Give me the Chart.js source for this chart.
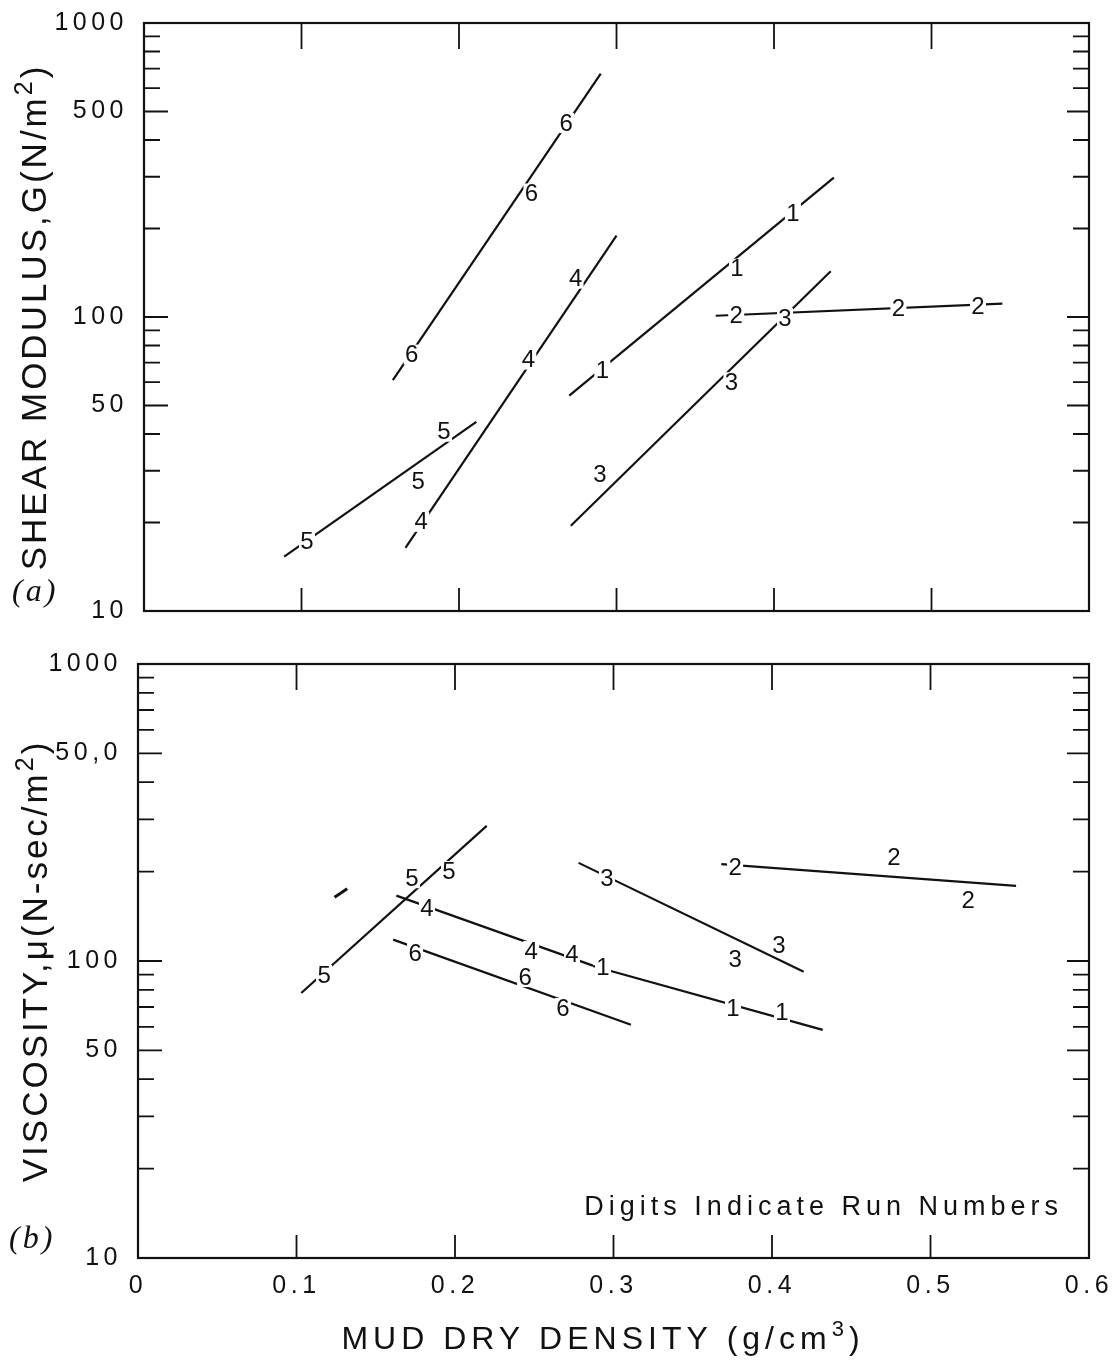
<!DOCTYPE html>
<html>
<head>
<meta charset="utf-8">
<script src="https://cdn.jsdelivr.net/npm/chart.js@4.4.1/dist/chart.umd.min.js"></script>
<style>
  body { margin: 0; background: #fff; }
  #wrap { position: relative; width: 1119px; height: 1360px; }
  canvas { position: absolute; left: 0; }
  #shearChart { top: 0; }
  #viscChart { top: 640px; }
</style>
</head>
<body>
<div id="wrap">
  <canvas id="shearChart" width="1119" height="640"></canvas>
  <canvas id="viscChart" width="1119" height="720"></canvas>
</div>
<script>
const densityTicks = [0, 0.1, 0.2, 0.3, 0.4, 0.5, 0.6];
const densityTickLabels = ['0', '0.1', '0.2', '0.3', '0.4', '0.5', '0.6'];
const logTicks = [10, 50, 100, 500, 1000];
const shearTickLabels = ['10', '50', '100', '500', '1000'];
const viscTickLabels = ['10', '50', '100', '50,0', '1000'];
const minorTicks = [20, 30, 40, 60, 70, 80, 90, 200, 300, 400, 600, 700, 800, 900];

// (a) shear modulus G (N/m2): end points of each run line [density, G]
const shearRun1 = [[0.270, 54], [0.438, 298]];
const shearRun2 = [[0.363, 101], [0.545, 111]];
const shearRun3 = [[0.271, 19.5], [0.436, 143]];
const shearRun4 = [[0.166, 16.4], [0.300, 189]];
const shearRun5 = [[0.089, 15.3], [0.211, 44]];
const shearRun6 = [[0.158, 61], [0.290, 673]];
// run digits written along the lines [run, density, G]
const shearDigits = [
  ['6', 0.170, 74.5], ['6', 0.246, 263], ['6', 0.268, 457],
  ['4', 0.176, 20.1], ['4', 0.244, 71.6], ['4', 0.274, 135],
  ['5', 0.1035, 17.3], ['5', 0.174, 27.6], ['5', 0.1905, 40.7],
  ['1', 0.291, 65.8], ['1', 0.3765, 146], ['1', 0.412, 226],
  ['3', 0.2895, 29.1], ['3', 0.373, 60], ['3', 0.407, 99.2],
  ['2', 0.376, 101.6], ['2', 0.479, 107.2], ['2', 0.5295, 108.9]
];

// (b) viscosity mu (N-sec/m2)
const viscRun1 = [[0.287, 96.2], [0.432, 58.6]];
const viscRun2 = [[0.368, 212], [0.554, 179]];
const viscRun3 = [[0.278, 214], [0.420, 92]];
const viscRun4 = [[0.163, 166], [0.287, 96.5]];
const viscRun5 = [[0.103, 78], [0.220, 285]];
const viscRun6 = [[0.161, 118], [0.311, 61]];
const viscStray = [[0.124, 164], [0.132, 175]];
const viscDigits = [
  ['5', 0.1174, 89.8], ['5', 0.1729, 190], ['5', 0.1962, 201],
  ['4', 0.1823, 150.7], ['4', 0.248, 108], ['4', 0.2738, 105.6],
  ['1', 0.2934, 95.4], ['1', 0.3754, 69.5], ['1', 0.4063, 67.3],
  ['6', 0.1748, 106.4], ['6', 0.2442, 88.3], ['6', 0.2681, 69.5],
  ['3', 0.2959, 190.4], ['3', 0.4044, 113.2], ['3', 0.3767, 101.6],
  ['2', 0.3767, 207.3], ['2', 0.477, 224], ['2', 0.5237, 160.5]
];

const sans = '"Liberation Sans", Arial, Helvetica, sans-serif';
const ink = '#111';

function runSet(points, width) {
  return {
    data: points.map(p => ({ x: p[0], y: p[1] })),
    showLine: true,
    borderColor: ink,
    borderWidth: width || 2.2,
    pointRadius: 0,
    tension: 0,
    fill: false
  };
}

// text with a superscript part, drawn from x0 on the baseline
function partsWidth(ctx, parts, size) {
  let w = 0;
  parts.forEach(([t, sup]) => {
    ctx.font = (sup ? Math.round(size * 0.7) : size) + 'px ' + sans;
    w += ctx.measureText(t).width;
  });
  return w;
}
function drawParts(ctx, parts, size, x0) {
  let x = x0;
  parts.forEach(([t, sup]) => {
    ctx.font = (sup ? Math.round(size * 0.7) : size) + 'px ' + sans;
    ctx.fillText(t, x, sup ? -size * 0.4 : 0);
    x += ctx.measureText(t).width;
  });
}

// frame, inward ticks, digits and captions
function paperPlugin(cfg) {
  return {
    id: 'paper',
    beforeDraw(chart) {
      chart.ctx.letterSpacing = '4.5px';
    },
    afterDatasetsDraw(chart) {
      const { ctx, scales: { x, y } } = chart;
      ctx.save();
      ctx.letterSpacing = '0px';
      ctx.font = '24px ' + sans;
      ctx.textAlign = 'center';
      ctx.textBaseline = 'middle';
      cfg.digits.forEach(([t, v, g]) => {
        const px = x.getPixelForValue(v);
        const py = y.getPixelForValue(g);
        ctx.fillStyle = '#fff';
        ctx.fillRect(px - 8, py - 10, 16, 20);
        ctx.fillStyle = ink;
        ctx.fillText(t, px, py + 1);
      });
      ctx.restore();
    },
    afterDraw(chart) {
      const { ctx, chartArea: a, scales: { x, y } } = chart;
      ctx.save();
      ctx.strokeStyle = ink;
      ctx.lineWidth = 2.2;
      ctx.strokeRect(a.left, a.top, a.right - a.left, a.bottom - a.top);
      ctx.lineWidth = 1.8;
      ctx.beginPath();
      densityTicks.slice(1, -1).forEach(v => {
        const px = x.getPixelForValue(v);
        ctx.moveTo(px, a.top); ctx.lineTo(px, a.top + 26);
        ctx.moveTo(px, a.bottom); ctx.lineTo(px, a.bottom - 23);
      });
      minorTicks.forEach(v => {
        const py = y.getPixelForValue(v);
        ctx.moveTo(a.left, py); ctx.lineTo(a.left + 16, py);
        ctx.moveTo(a.right, py); ctx.lineTo(a.right - 16, py);
      });
      logTicks.slice(1, -1).forEach(v => {
        const py = y.getPixelForValue(v);
        ctx.moveTo(a.left, py); ctx.lineTo(a.left + 24, py);
        ctx.moveTo(a.right, py); ctx.lineTo(a.right - 22, py);
      });
      ctx.stroke();

      ctx.fillStyle = ink;
      ctx.textAlign = 'left';
      ctx.textBaseline = 'alphabetic';

      // y axis title, reading upwards
      ctx.save();
      ctx.letterSpacing = '3px';
      const w = partsWidth(ctx, cfg.yTitle, 35);
      ctx.translate(cfg.yTitleX, (a.top + a.bottom) / 2);
      ctx.rotate(-Math.PI / 2);
      drawParts(ctx, cfg.yTitle, 35, -w / 2);
      ctx.restore();

      // panel tag
      ctx.letterSpacing = '3px';
      ctx.font = 'italic 32px "Liberation Serif", "Times New Roman", serif';
      ctx.fillText(cfg.tag, cfg.tagX, cfg.tagY);

      if (cfg.xTitle) {
        ctx.save();
        ctx.letterSpacing = '5px';
        const xw = partsWidth(ctx, cfg.xTitle, 32);
        ctx.translate(0, 709);
        drawParts(ctx, cfg.xTitle, 32, 603 - xw / 2);
        ctx.restore();
      }
      if (cfg.note) {
        ctx.letterSpacing = '5px';
        ctx.font = '27px ' + sans;
        ctx.textAlign = 'right';
        ctx.fillText(cfg.note, a.right - 26, a.bottom - 43);
      }
      ctx.restore();
    }
  };
}

function makeScales(yLabels, leftWidth, xHeight, showX) {
  return {
    x: {
      type: 'linear',
      min: 0,
      max: 0.6,
      afterBuildTicks: s => { s.ticks = densityTicks.map(v => ({ value: v })); },
      afterFit: s => { s.height = xHeight; },
      grid: { display: false },
      border: { display: false },
      ticks: {
        display: showX,
        color: ink,
        padding: 5,
        maxRotation: 0,
        autoSkip: false,
        font: { family: sans, size: 25 },
        callback: (v, i) => densityTickLabels[i]
      }
    },
    y: {
      type: 'logarithmic',
      min: 10,
      max: 1000,
      afterBuildTicks: s => { s.ticks = logTicks.map(v => ({ value: v })); },
      afterFit: s => { s.width = leftWidth; },
      grid: { display: false },
      border: { display: false },
      ticks: {
        color: ink,
        padding: 8,
        autoSkip: false,
        font: { family: sans, size: 25 },
        callback: (v, i) => yLabels[i]
      }
    }
  };
}

const baseOptions = {
  responsive: false,
  devicePixelRatio: 1,
  animation: false,
  events: [],
  plugins: { legend: { display: false }, tooltip: { enabled: false } }
};

const shearChart = new Chart(document.getElementById('shearChart').getContext('2d'), {
  type: 'scatter',
  data: {
    datasets: [shearRun1, shearRun2, shearRun3, shearRun4, shearRun5, shearRun6].map(r => runSet(r))
  },
  options: {
    ...baseOptions,
    layout: { padding: { top: 17, right: 30, left: 0, bottom: 0 } },
    scales: makeScales(shearTickLabels, 144, 29, false)
  },
  plugins: [paperPlugin({
    digits: shearDigits,
    yTitle: [['SHEAR MODULUS,G(N/m', false], ['2', true], [')', false]],
    yTitleX: 46,
    tag: '(a)',
    tagX: 12,
    tagY: 601
  })]
});

const viscChart = new Chart(document.getElementById('viscChart').getContext('2d'), {
  type: 'scatter',
  data: {
    datasets: [viscRun1, viscRun2, viscRun3, viscRun4, viscRun5, viscRun6].map(r => runSet(r))
      .concat([runSet(viscStray, 3)])
  },
  options: {
    ...baseOptions,
    layout: { padding: { top: 24, right: 30, left: 0, bottom: 0 } },
    scales: makeScales(viscTickLabels, 138, 102, true)
  },
  plugins: [paperPlugin({
    digits: viscDigits,
    yTitle: [['VISCOSITY,\u03bc(N-sec/m', false], ['2', true], [')', false]],
    yTitleX: 47,
    tag: '(b)',
    tagX: 9,
    tagY: 608,
    xTitle: [['MUD DRY DENSITY (g/cm', false], ['3', true], [')', false]],
    note: 'Digits Indicate Run Numbers'
  })]
});
</script>
</body>
</html>
